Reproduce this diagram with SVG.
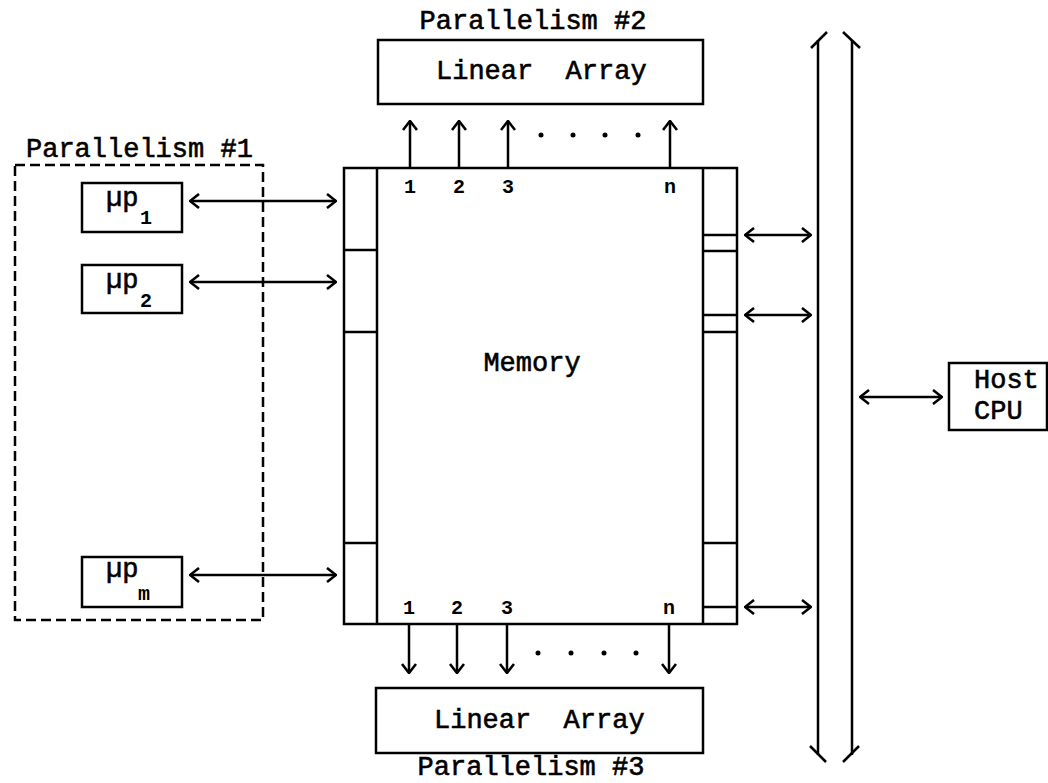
<svg xmlns="http://www.w3.org/2000/svg" width="1048" height="783" viewBox="0 0 1048 783">
<defs>
<marker id="ah" viewBox="0 0 12 16" refX="11" refY="8" markerWidth="12" markerHeight="16" markerUnits="userSpaceOnUse" orient="auto-start-reverse">
<path d="M2,1 L11,8 L2,15" fill="none" stroke="#000" stroke-width="2.6"/>
</marker>
</defs>
<style>
.ln{stroke:#000;stroke-width:2.5;fill:none}
.box{stroke:#000;stroke-width:2.5;fill:#fff}
.t{font-family:"Liberation Mono","DejaVu Sans Mono",monospace;font-size:27px;fill:#000;stroke:#000;stroke-width:0.6}
.n{font-family:"Liberation Mono","DejaVu Sans Mono",monospace;font-size:20px;font-weight:bold;fill:#000}
.a{stroke:#000;stroke-width:2.5;fill:none;marker-end:url(#ah)}
.aa{stroke:#000;stroke-width:2.5;fill:none;marker-end:url(#ah);marker-start:url(#ah)}
.dot{fill:#000}
</style>
<rect width="1048" height="783" fill="#fff"/>

<g id="parallelism1">
<rect x="15" y="165" width="248" height="455" fill="none" stroke="#000" stroke-width="2.5" stroke-dasharray="10,5"/>
<text class="t" x="26" y="157">Parallelism #1</text>
</g>

<g id="mp1">
<rect class="box" x="82" y="183" width="100" height="49"/>
<text class="t" x="106" y="206">µp</text>
<text class="n" x="140" y="224">1</text>
</g>
<g id="mp2">
<rect class="box" x="82" y="265" width="100" height="48"/>
<text class="t" x="106" y="288">µp</text>
<text class="n" x="140" y="307">2</text>
</g>
<g id="mpm">
<rect class="box" x="82" y="557" width="100" height="50"/>
<text class="t" x="106" y="577">µp</text>
<text class="n" x="138" y="600">m</text>
</g>

<g id="memory">
<rect class="box" x="344" y="168" width="393" height="456"/>
<line class="ln" x1="377" y1="168" x2="377" y2="624"/>
<line class="ln" x1="703" y1="168" x2="703" y2="624"/>
<line class="ln" x1="344" y1="250" x2="377" y2="250"/>
<line class="ln" x1="344" y1="332" x2="377" y2="332"/>
<line class="ln" x1="344" y1="543" x2="377" y2="543"/>
<line class="ln" x1="703" y1="235" x2="737" y2="235"/>
<line class="ln" x1="703" y1="251" x2="737" y2="251"/>
<line class="ln" x1="703" y1="315" x2="737" y2="315"/>
<line class="ln" x1="703" y1="332" x2="737" y2="332"/>
<line class="ln" x1="703" y1="543" x2="737" y2="543"/>
<line class="ln" x1="703" y1="607" x2="737" y2="607"/>
<text class="t" x="532" y="371" text-anchor="middle">Memory</text>
<text class="n" x="410" y="193" text-anchor="middle">1</text>
<text class="n" x="459" y="193" text-anchor="middle">2</text>
<text class="n" x="508" y="193" text-anchor="middle">3</text>
<text class="n" x="670" y="193" text-anchor="middle">n</text>
<text class="n" x="409" y="614" text-anchor="middle">1</text>
<text class="n" x="457" y="614" text-anchor="middle">2</text>
<text class="n" x="507" y="614" text-anchor="middle">3</text>
<text class="n" x="669" y="614" text-anchor="middle">n</text>
</g>

<g id="linear-array-top">
<rect class="box" x="378" y="40" width="325" height="64"/>
<text class="t" x="436" y="79">Linear&#160; Array</text>
<text class="t" x="533" y="29" text-anchor="middle">Parallelism #2</text>
</g>

<g id="linear-array-bottom">
<rect class="box" x="376" y="688" width="327" height="65"/>
<text class="t" x="434" y="728">Linear&#160; Array</text>
<text class="t" x="531" y="775" text-anchor="middle">Parallelism #3</text>
</g>

<g id="host-cpu">
<rect class="box" x="949" y="363" width="98" height="67"/>
<text class="t" x="974" y="388">Host</text>
<text class="t" x="974" y="419">CPU</text>
</g>

<g id="bus">
<line class="ln" x1="818" y1="40" x2="818" y2="755"/>
<line class="ln" x1="852" y1="40" x2="852" y2="755"/>
<line class="ln" x1="811" y1="48" x2="827" y2="32"/>
<line class="ln" x1="843" y1="32" x2="860" y2="48"/>
<line class="ln" x1="810" y1="746" x2="826" y2="762"/>
<line class="ln" x1="843" y1="762" x2="859" y2="746"/>
</g>

<g id="connectors">
<line class="aa" x1="190" y1="201" x2="336" y2="201"/>
<line class="aa" x1="190" y1="282" x2="336" y2="282"/>
<line class="aa" x1="190" y1="575" x2="336" y2="575"/>
<line class="aa" x1="745" y1="235" x2="811" y2="235"/>
<line class="aa" x1="745" y1="315" x2="811" y2="315"/>
<line class="aa" x1="745" y1="607" x2="811" y2="607"/>
<line class="aa" x1="860" y1="397" x2="942" y2="397"/>
<line class="a" x1="410" y1="168" x2="410" y2="121"/>
<line class="a" x1="459" y1="168" x2="459" y2="121"/>
<line class="a" x1="508" y1="168" x2="508" y2="121"/>
<line class="a" x1="670" y1="168" x2="670" y2="121"/>
<line class="a" x1="409" y1="624" x2="409" y2="673"/>
<line class="a" x1="457" y1="624" x2="457" y2="673"/>
<line class="a" x1="507" y1="624" x2="507" y2="673"/>
<line class="a" x1="669" y1="624" x2="669" y2="673"/>
<circle class="dot" cx="541" cy="135" r="2.5"/>
<circle class="dot" cx="573" cy="135" r="2.5"/>
<circle class="dot" cx="605" cy="135" r="2.5"/>
<circle class="dot" cx="638" cy="135" r="2.5"/>
<circle class="dot" cx="538" cy="653" r="2.5"/>
<circle class="dot" cx="571" cy="653" r="2.5"/>
<circle class="dot" cx="604" cy="653" r="2.5"/>
<circle class="dot" cx="636" cy="653" r="2.5"/>
</g>
</svg>
